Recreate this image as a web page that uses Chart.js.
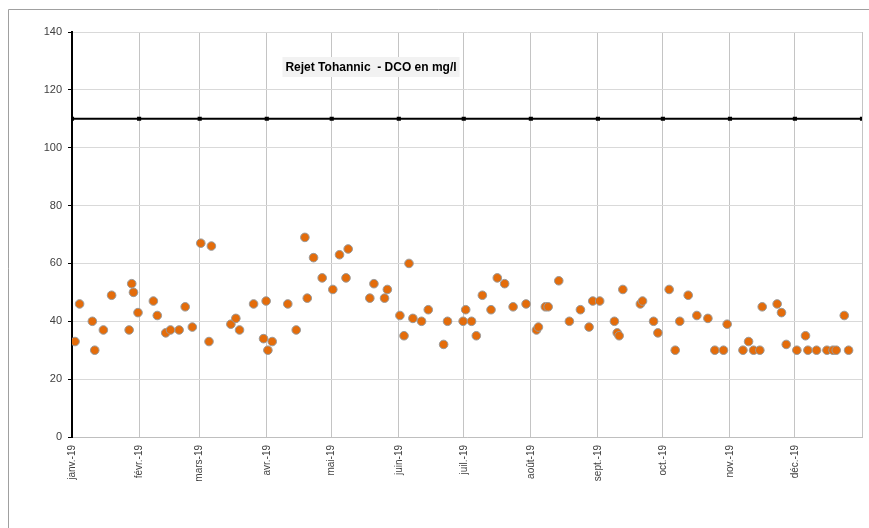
<!DOCTYPE html>
<html>
<head>
<meta charset="utf-8">
<script src="https://cdn.jsdelivr.net/npm/chart.js"></script>
<style>
html, body { margin: 0; padding: 0; background: #fff; }
#wrap { width: 869px; height: 528px; position: relative; }
</style>
</head>
<body>
<div id="wrap"><canvas id="dcoChart"></canvas></div>
<script>

// sampling day (day of year 2019, 0 = 1 Jan) and DCO value in mg/l
const days = [
1.4, 3.5, 9.4, 10.5, 14.5, 18.3, 26.4, 27.6, 28.4, 30.5,
37.6, 39.4, 43.3, 45.5, 49.5, 52.3, 55.6, 59.5, 63.3, 64.4,
73.4, 75.7, 77.4, 83.9, 88.5, 89.7, 90.5, 92.5, 99.7, 103.6,
107.6, 108.7, 111.6, 115.6, 120.5, 123.6, 126.6, 127.6, 137.6, 139.5,
144.4, 145.7, 151.5, 153.4, 155.7, 157.5, 161.5, 164.6, 171.7, 173.5,
180.7, 181.9, 184.6, 186.8, 189.6, 193.6, 196.5, 199.9, 203.8, 209.8,
214.6, 215.5, 218.7, 220.0, 224.9, 229.8, 234.9, 238.9, 240.6, 243.8,
250.6, 251.9, 252.8, 254.5, 262.6, 263.6, 268.7, 270.7, 275.9, 278.7,
280.8, 284.7, 288.7, 293.8, 297.0, 301.0, 302.7, 310.0, 312.6, 314.9,
317.8, 318.9, 325.8, 327.8, 330.0, 334.9, 338.9, 340.0, 344.0, 348.8,
351.6, 353.1, 356.8, 358.8
];

const dcoValues = [
33, 46, 40, 30, 37, 49, 37, 53, 50, 43,
47, 42, 36, 37, 37, 45, 38, 67, 33, 66,
39, 41, 37, 46, 34, 47, 30, 33, 46, 37,
69, 48, 62, 55, 51, 63, 55, 65, 48, 53,
48, 51, 42, 35, 60, 41, 40, 44, 32, 40,
40, 44, 40, 35, 49, 44, 55, 53, 45, 46,
37, 38, 45, 45, 54, 40, 44, 38, 47, 47,
40, 36, 35, 51, 46, 47, 40, 36, 51, 30,
40, 49, 42, 41, 30, 30, 39, 30, 33, 30,
30, 45, 46, 43, 32, 30, 35, 30, 30, 30,
30, 30, 42, 30
];

// month starts (last one = 1 Jan 2020, end of axis)
const monthStarts = [0, 31, 59, 90, 120, 151, 181, 212, 243, 273, 304, 334, 365];
const monthLabels = [
"janv.-19", "févr.-19", "mars-19", "avr.-19", "mai-19", "juin-19",
"juil.-19", "août-19", "sept.-19", "oct.-19", "nov.-19", "déc.-19"
];

const yTicks = [0, 20, 40, 60, 80, 100, 120, 140];
const limitValue = 110;
const chartTitle = "Rejet Tohannic  - DCO en mg/l";


const points = days.map((d, i) => ({ x: d, y: dcoValues[i] }));
const limitLine = monthStarts.map(d => ({ x: d, y: limitValue }));


const framePlugin = {
    id: "frame",
    beforeDraw(chart) {
        const ctx = chart.ctx;
        ctx.save();
        ctx.fillStyle = "#ffffff";
        ctx.fillRect(0, 0, chart.width, chart.height);
        ctx.strokeStyle = "#a0a0a0";
        ctx.lineWidth = 1;
        ctx.beginPath();
        ctx.moveTo(8.5, chart.height);
        ctx.lineTo(8.5, 9.5);
        ctx.lineTo(chart.width, 9.5);
        ctx.stroke();
        ctx.restore();
    },
    afterDraw(chart) {
        const ctx = chart.ctx;
        ctx.save();
        ctx.font = "bold 12px 'Liberation Sans', Arial, sans-serif";
        const w = ctx.measureText(chartTitle).width;
        const cx = 371;
        ctx.fillStyle = "#f2f2f2";
        ctx.fillRect(cx - w / 2 - 3, 57, w + 6, 20);
        ctx.fillStyle = "#000000";
        ctx.textAlign = "center";
        ctx.textBaseline = "middle";
        ctx.fillText(chartTitle, cx, 67.5);
        ctx.restore();
    }
};


new Chart(
document.getElementById("dcoChart"),
{
type: "scatter",

data: {
datasets: [
{
label: "Limite",
type: "line",
data: limitLine,
borderColor: "#000000",
borderWidth: 2,
pointRadius: 1.5,
pointStyle: "rect",
pointBackgroundColor: "#000000",
pointBorderColor: "#000000",
fill: false,
tension: 0,
order: 2
},
{
label: "DCO",
data: points,
backgroundColor: "#E46C0A",
borderColor: "#9a9a9a",
borderWidth: 1,
pointRadius: 4.3,
pointHoverRadius: 4.3,
order: 1
}
]
},

options: {
responsive: true,
maintainAspectRatio: false,
animation: false,
layout: {
padding: { left: 0, top: 32, right: 7, bottom: 0 }
},
plugins: {
legend: { display: false },
tooltip: { enabled: false }
},
scales: {
x: {
type: "linear",
min: 0,
max: 365,
afterBuildTicks: scale => {
scale.ticks = monthStarts.map(v => ({ value: v }));
},
afterFit: scale => {
scale.height = 91;
scale.paddingLeft = 0;
scale.paddingRight = 0;
},
grid: {
color: "#c4c4c4",
drawTicks: false
},
border: { color: "#bfbfbf", width: 1 },
ticks: {
autoSkip: false,
minRotation: 90,
maxRotation: 90,
padding: 8,
color: "#404040",
font: { family: "'Liberation Sans', Arial, sans-serif", size: 10 },
callback: (v, i) => monthLabels[i] || ""
}
},
y: {
min: 0,
max: 140,
afterBuildTicks: scale => {
scale.ticks = yTicks.map(v => ({ value: v }));
},
afterFit: scale => {
scale.width = 72;
scale.paddingTop = 0;
scale.paddingBottom = 0;
},
grid: {
color: "#d9d9d9",
tickColor: "#000000",
tickLength: 4
},
border: { color: "#000000", width: 2 },
ticks: {
padding: 6,
color: "#404040",
font: { family: "'Liberation Sans', Arial, sans-serif", size: 11 }
}
}
}
},

plugins: [framePlugin]

});

</script>
</body>
</html>
